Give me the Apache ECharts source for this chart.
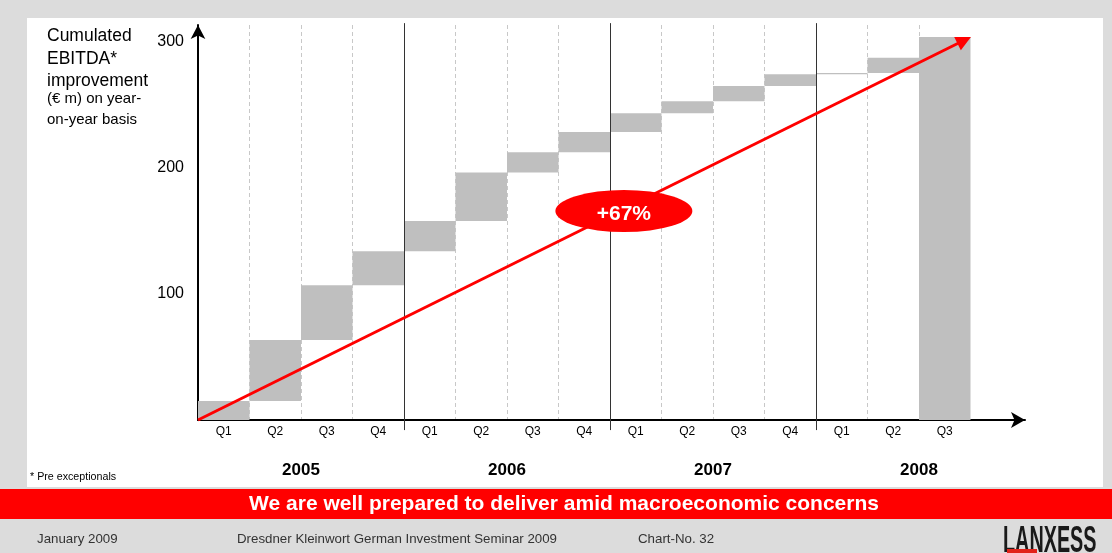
<!DOCTYPE html>
<html>
<head>
<meta charset="utf-8">
<script src="https://cdn.jsdelivr.net/npm/echarts@6/dist/echarts.min.js"></script>
<style>
  html, body { margin: 0; padding: 0; background: #dcdcdc; }
  #chart { width: 1112px; height: 553px; }
</style>
</head>
<body>
<div id="chart"></div>
<script>
// quarters Q1 2005 .. Q3 2008
const quarters = ['Q1', 'Q2', 'Q3', 'Q4', 'Q1', 'Q2', 'Q3', 'Q4', 'Q1', 'Q2', 'Q3', 'Q4', 'Q1', 'Q2', 'Q3'];
// cumulated level (€m) reached after each quarter, last bar = total
const cumulated = [15, 63.5, 107, 134, 158, 196.5, 212.5, 228.5, 243.5, 253, 265, 274.5, 275.5, 287.5, 304];
const years = ['2005', '2006', '2007', '2008'];
const yearPos = [2, 6, 10, 14];        // in quarter units along the axis
const yearBreaks = [4, 8, 12];
const yTicks = [100, 200, 300];
const trend = [[0, 0], [14.88, 301.4]];
const growthLabel = '+67%';

// waterfall: invisible base + grey step, last one is the full total bar
const last = cumulated.length - 1;
const base = cumulated.map((v, i) => (i === 0 || i === last) ? 0 : cumulated[i - 1]);
const step = cumulated.map((v, i) => +(v - base[i]).toFixed(2));

const FONT = "'Liberation Sans', Arial, sans-serif";
const chart = echarts.init(document.getElementById('chart'));

const option = {
  animation: false,
  backgroundColor: '#dcdcdc',
  textStyle: { fontFamily: FONT },
  title: [
    {
      left: 42, top: 20,
      text: 'Cumulated\nEBITDA*\nimprovement',
      textStyle: { fontSize: 17.5, fontWeight: 'normal', lineHeight: 22.5, color: '#000', fontFamily: FONT }
    },
    {
      left: 42, top: 83,
      text: '(€ m) on year-\non-year basis',
      textStyle: { fontSize: 15, fontWeight: 'normal', lineHeight: 21, color: '#000', fontFamily: FONT }
    }
  ],
  grid: [
    // bars
    { left: 198, top: 25, width: 772.5, height: 395, containLabel: false, outerBoundsMode: 'none' },
    // decoration: x arrow, trend arrow, separators, year labels
    { left: 198, top: 22, width: 827, height: 454.7, containLabel: false, outerBoundsMode: 'none' }
  ],
  xAxis: [
    {
      type: 'category', gridIndex: 0, data: quarters, boundaryGap: true,
      axisLine: { show: false }, axisTick: { show: false },
      axisLabel: { interval: 0, color: '#000', fontSize: 12, margin: 6 },
      splitLine: {
        show: true, interval: 0, showMinLine: false, showMaxLine: false,
        lineStyle: { color: '#c8c8c8', type: [4, 3], width: 1 }
      }
    },
    {
      type: 'value', gridIndex: 1, min: 0, max: 16.06,
      axisLine: {
        show: true, onZero: true, symbol: ['none', 'arrow'], symbolSize: [12, 14],
        lineStyle: { color: '#000', width: 2 }
      },
      axisTick: { show: false }, axisLabel: { show: false }, splitLine: { show: false }
    }
  ],
  yAxis: [
    {
      type: 'value', gridIndex: 0, min: 0, max: 313.5, interval: 100,
      axisLine: {
        show: true, symbol: ['none', 'arrow'], symbolSize: [11, 14],
        lineStyle: { color: '#000', width: 2 }
      },
      axisTick: { show: false }, splitLine: { show: false },
      axisLabel: {
        color: '#000', fontSize: 16, margin: 14,
        formatter: v => yTicks.includes(v) ? String(v) : ''
      }
    },
    {
      type: 'value', gridIndex: 1, min: -45, max: 315.9, show: false
    }
  ],
  series: [
    {
      type: 'bar', xAxisIndex: 0, yAxisIndex: 0, stack: 'w', data: base,
      barWidth: '100%', silent: true,
      itemStyle: { color: 'transparent' }
    },
    {
      type: 'bar', xAxisIndex: 0, yAxisIndex: 0, stack: 'w', data: step,
      barWidth: '100%', silent: true,
      itemStyle: { color: '#bfbfbf' }
    },
    {
      // year separators
      type: 'scatter', xAxisIndex: 1, yAxisIndex: 1, data: [], silent: true,
      markLine: {
        silent: true, symbol: ['none', 'none'], label: { show: false },
        lineStyle: { color: '#333', width: 1, type: 'solid' },
        data: yearBreaks.map(x => [{ coord: [x, -8] }, { coord: [x, 315] }])
      }
    },
    {
      // trend arrow, growth ellipse, year labels
      type: 'scatter', xAxisIndex: 1, yAxisIndex: 1, data: [], silent: true,
      markLine: {
        silent: true, symbol: ['none', 'triangle'], symbolSize: 15, label: { show: false },
        lineStyle: { color: '#ff0000', width: 3, type: 'solid' },
        data: [[{ coord: trend[0] }, { coord: trend[1] }]]
      },
      markPoint: {
        silent: true,
        data: [
          {
            name: growthLabel, coord: [8.27, 165.9],
            symbol: 'path://M0,50 A100,50 0 1,1 200,50 A100,50 0 1,1 0,50 Z',
            symbolSize: [137, 42],
            itemStyle: { color: '#ff0000' },
            label: { show: true, formatter: '{b}', color: '#fff', fontSize: 21, fontWeight: 'bold', offset: [0, 3] }
          }
        ].concat(years.map((y, i) => ({
          name: y, coord: [yearPos[i], -40], symbolSize: 0,
          label: { show: true, formatter: '{b}', color: '#000', fontSize: 17, fontWeight: 'bold' }
        })))
      }
    }
  ],
  graphic: [
    { type: 'rect', z: -10, silent: true, shape: { x: 27, y: 18, width: 1076, height: 469 }, style: { fill: '#fff' } },
    { type: 'rect', silent: true, shape: { x: 0, y: 489, width: 1112, height: 30 }, style: { fill: '#ff0000' } },
    {
      type: 'text', silent: true, x: 564, y: 504,
      style: { text: 'We are well prepared to deliver amid macroeconomic concerns', fill: '#fff', font: 'bold 21px ' + FONT, align: 'center', verticalAlign: 'middle' }
    },
    {
      type: 'text', silent: true, x: 30, y: 477,
      style: { text: '* Pre exceptionals', fill: '#000', font: '10.7px ' + FONT, verticalAlign: 'middle' }
    },
    { type: 'text', silent: true, x: 37, y: 539, style: { text: 'January 2009', fill: '#333', font: '13.3px ' + FONT, verticalAlign: 'middle' } },
    { type: 'text', silent: true, x: 237, y: 539, style: { text: 'Dresdner Kleinwort German Investment Seminar 2009', fill: '#333', font: '13.3px ' + FONT, verticalAlign: 'middle' } },
    { type: 'text', silent: true, x: 638, y: 539, style: { text: 'Chart-No. 32', fill: '#333', font: '13.3px ' + FONT, verticalAlign: 'middle' } },
    {
      type: 'text', silent: true, x: 1003, y: 542, scaleX: 0.55,
      style: { text: 'LANXESS', fill: '#1a1a1a', font: 'bold 36px ' + FONT, verticalAlign: 'middle' }
    },
    { type: 'rect', silent: true, shape: { x: 1007, y: 549, width: 30, height: 4 }, style: { fill: '#e2231a' } }
  ]
};

chart.setOption(option);
</script>
</body>
</html>
